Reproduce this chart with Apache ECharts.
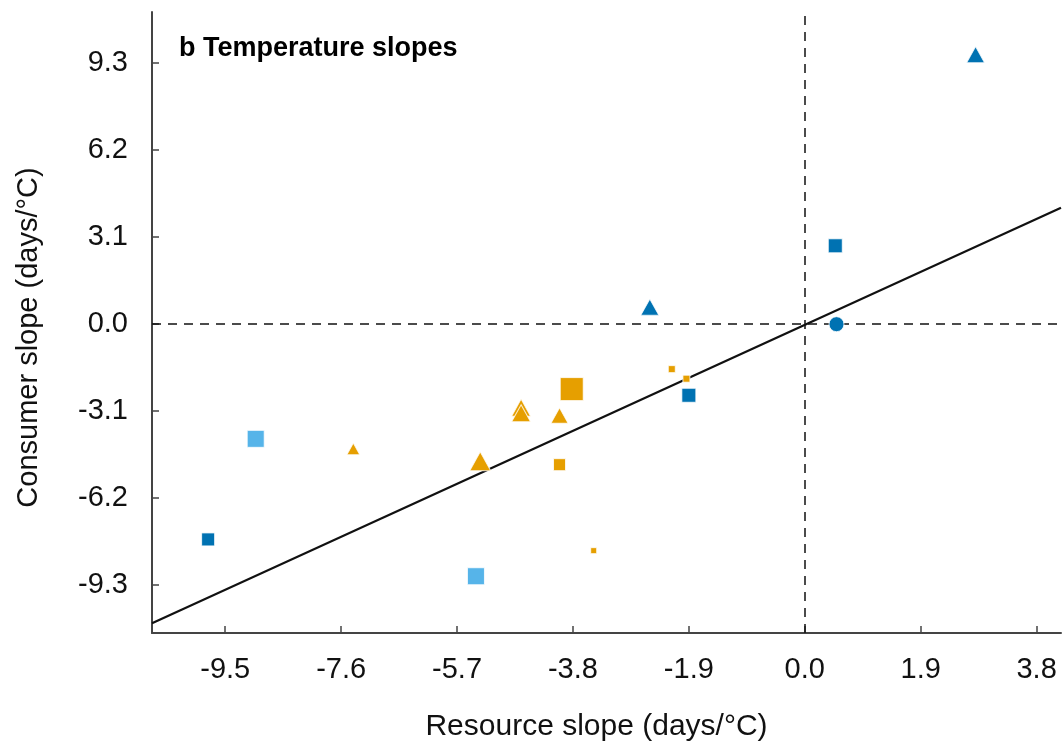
<!DOCTYPE html>
<html>
<head>
<meta charset="utf-8">
<script src="https://cdn.jsdelivr.net/npm/echarts@6/dist/echarts.min.js"></script>
<style>
  html, body { margin: 0; padding: 0; background: #fff; }
  #chart { width: 1063px; height: 747px; }
</style>
</head>
<body>
<div id="chart"></div>
<script>
// axis ticks
const xTicks = [-9.5, -7.6, -5.7, -3.8, -1.9, 0.0, 1.9, 3.8]
const yTicks = [-9.3, -6.2, -3.1, 0.0, 3.1, 6.2, 9.3]

// points: resource slope (x), consumer slope (y)
const resourceSlope = [2.80, 0.50, 0.52, -2.54, -1.90, -9.78, -9.00, -5.39,
  -3.82, -2.18, -1.94, -4.65, -4.65, -4.02, -7.40, -5.32, -4.02, -3.46]
const consumerSlope = [9.58, 2.78, -0.01, 0.60, -2.54, -7.67, -4.09, -8.98,
  -2.32, -1.61, -1.95, -2.98, -3.18, -3.26, -4.45, -4.89, -5.01, -8.07]
const markerSize = [18, 14, 15, 18, 14, 13, 17, 17,
  23, 7, 7, 19, 19, 17, 13, 21, 12, 6]
const markerShape = ['triangle', 'rect', 'circle', 'triangle', 'rect', 'rect', 'rect', 'rect',
  'rect', 'rect', 'rect', 'triangle', 'triangle', 'triangle', 'triangle', 'triangle', 'rect', 'rect']
const markerGroup = ['dark', 'dark', 'dark', 'dark', 'dark', 'dark', 'light', 'light',
  'orange', 'orange', 'orange', 'orange', 'orange', 'orange', 'orange', 'orange', 'orange', 'orange']

// fitted line end points
const fitX = [-10.7, 4.2]
const fitY = [-10.65, 4.13]

const groupColors = { dark: '#0072B2', light: '#56B4E9', orange: '#E69F00' }

const chart = echarts.init(document.getElementById('chart'))

const scatterSeries = Object.keys(groupColors).map(g => {
  const data = []
  resourceSlope.forEach((x, i) => {
    if (markerGroup[i] !== g) return
    data.push({
      value: [x, consumerSlope[i]],
      symbol: markerShape[i],
      symbolSize: markerShape[i] === 'triangle' ? [markerSize[i], markerSize[i] * 0.9] : markerSize[i]
    })
  })
  return {
    name: g,
    type: 'scatter',
    z: 5,
    itemStyle: { color: groupColors[g], borderColor: 'rgba(255,255,255,0.8)', borderWidth: 1, opacity: 1 },
    data: data
  }
})

const option = {
  animation: false,
  backgroundColor: '#ffffff',
  grid: { left: 152, right: 2, top: 12, bottom: 113 },
  title: {
    text: 'b Temperature slopes',
    left: 174,
    top: 30,
    textStyle: { fontFamily: 'Liberation Sans', fontWeight: 'bold', fontSize: 27, color: '#000' }
  },
  xAxis: {
    type: 'value',
    min: -10.7,
    max: 4.2,
    splitLine: { show: false },
    axisLine: { show: true, onZero: false, lineStyle: { color: '#444', width: 2 } },
    axisTick: { show: true, inside: true, length: 7, customValues: xTicks, lineStyle: { color: '#444', width: 1.5 } },
    axisLabel: {
      customValues: xTicks,
      formatter: v => v.toFixed(1),
      margin: 22,
      fontFamily: 'Liberation Sans',
      fontSize: 29,
      color: '#111'
    },
    name: 'Resource slope (days/°C)',
    nameLocation: 'middle',
    nameGap: 79,
    nameTextStyle: { fontFamily: 'Liberation Sans', fontSize: 30, color: '#111', padding: [0, 20, 0, 0] }
  },
  yAxis: {
    type: 'value',
    min: -11.0,
    max: 11.1,
    splitLine: { show: false },
    axisLine: { show: true, onZero: false, lineStyle: { color: '#444', width: 2 } },
    axisTick: { show: true, inside: true, length: 7, customValues: yTicks, lineStyle: { color: '#444', width: 1.5 } },
    axisLabel: {
      customValues: yTicks,
      formatter: v => v.toFixed(1),
      margin: 24,
      fontFamily: 'Liberation Sans',
      fontSize: 29,
      color: '#111'
    },
    name: 'Consumer slope (days/°C)',
    nameLocation: 'middle',
    nameGap: 109,
    nameTextStyle: { fontFamily: 'Liberation Sans', fontSize: 29, color: '#111', padding: [0, 30, 0, 0] }
  },
  series: [
    {
      name: 'fit',
      type: 'line',
      symbol: 'none',
      z: 3,
      lineStyle: { color: '#111', width: 2.2 },
      data: fitX.map((x, i) => [x, fitY[i]]),
      markLine: {
        silent: true,
        symbol: 'none',
        label: { show: false },
        lineStyle: { color: '#111', type: [9, 7], width: 1.5 },
        data: [{ xAxis: 0 }, { yAxis: 0 }]
      }
    }
  ].concat(scatterSeries)
}

chart.setOption(option)
</script>
</body>
</html>
